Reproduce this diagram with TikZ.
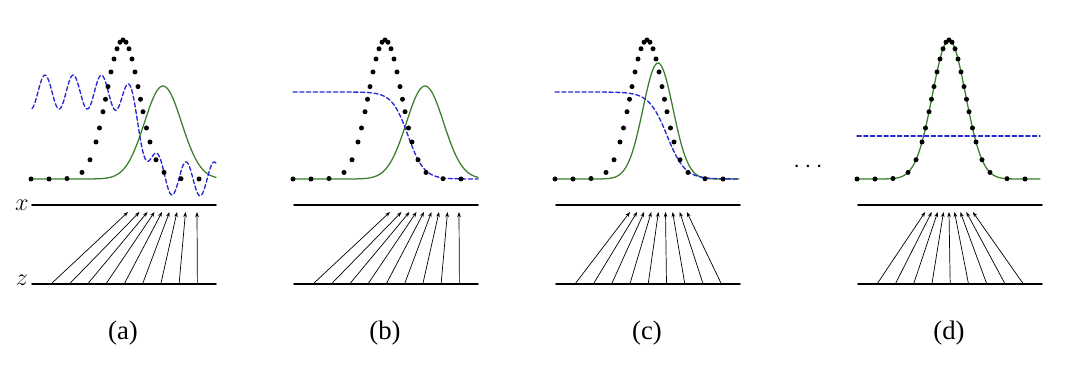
\documentclass[tikz,border=0pt]{standalone}
\usepackage{amsmath}
\usepackage{fontspec}
\usepackage{tikz}
\usetikzlibrary{arrows.meta, calc}
\newfontfamily\capfont{Liberation Serif}
\definecolor{gengreen}{RGB}{58,128,44}
\definecolor{discblue}{RGB}{40,40,215}

\tikzset{
  declare function={
    pdata(\d)=179-139*exp(-min(((\d)/23.47)^2,9));
    pgen(\d,\a,\s)=179-\a*exp(-min(((\d)/\s)^2/2,9));
    dsig(\x,\c,\s)=92+87/(1+exp(min(max(-((\x)-(\c))/(\s),-7),7)));
  },
  axisline/.style={line width=1.1pt},
  gencurve/.style={gengreen, line width=0.9pt},
  disccurve/.style={discblue, line width=0.95pt, dash pattern=on 3pt off 1.8pt},
  maparrow/.style={-{Stealth[length=3.6pt,width=2.6pt]}, line width=0.5pt},
  caplabel/.style={font=\capfont\fontsize{19}{21}\selectfont},
  axlabel/.style={font=\fontsize{19}{21}\selectfont, inner sep=0pt},
}

\begin{document}
\begin{tikzpicture}[x=0.025cm, y=-0.025cm, line cap=round, line join=round]
  \useasboundingbox (0,0) rectangle (1080,366);

  % -- axis names --
  \node[axlabel] (xname) at (22,205) {$x$};
  \node[axlabel] (zname) at (22,280) {$z$};

  % -- the four panels (shifted to the data peak) --
  \foreach \pk/\tag in {123/a, 385/b, 647/c, 949/d} {
    \begin{scope}[shift={(\pk,0)}]
      % x and z lines
      \draw[axisline] (-91,205) -- (93,205);
      \draw[axisline] (-91,284) -- (93,284);
      \node[caplabel] (cap\tag) at (0,333) {(\tag)};
    \end{scope}
  }

  % -- panel (a) --
  \begin{scope}[shift={(123,0)}]
    \draw[gencurve] plot[domain=-91:93, samples=120] (\x, {pgen(\x-40,93,18.6)});
    \draw[disccurve] plot[domain=-91:93, samples=240]
      (\x, {dsig(\x,20,6.5)-17*cos((\x+78)*12.766)});
    \foreach \e [count=\i from 0] in {5,16.5,24.5,31.5,39,46.5,54,62.5,74} {
      \coordinate (za\i) at ({-72+18.3*\i},284);
      \coordinate (xa\i) at (\e,212);
      \draw[maparrow] (za\i) -- (xa\i);
    }
  \end{scope}

  % -- panel (b) --
  \begin{scope}[shift={(385,0)}]
    \draw[gencurve] plot[domain=-92:93, samples=120] (\x, {pgen(\x-40,93,18.6)});
    \draw[disccurve] plot[domain=-92:93, samples=160] (\x, {dsig(\x,23,8)});
    \foreach \e [count=\i from 0] in {5,16.5,24.5,31.5,39,46.5,54,62.5,74} {
      \coordinate (zb\i) at ({-72+18.3*\i},284);
      \coordinate (xb\i) at (\e,212);
      \draw[maparrow] (zb\i) -- (xb\i);
    }
  \end{scope}

  % -- panel (c) --
  \begin{scope}[shift={(647,0)}]
    \draw[gencurve] plot[domain=-92:92, samples=120] (\x, {pgen(\x-11,116,15)});
    \draw[disccurve] plot[domain=-92:92, samples=160] (\x, {dsig(\x,20,9)});
    \foreach \e [count=\i from 0] in {-17,-9.9,-2.8,4.3,11.4,18.5,25.6,32.7,39.8} {
      \coordinate (zc\i) at ({-72+18.3*\i},284);
      \coordinate (xc\i) at (\e,212);
      \draw[maparrow] (zc\i) -- (xc\i);
    }
  \end{scope}

  % -- panel (d) --
  \begin{scope}[shift={(949,0)}]
    \draw[gencurve] plot[domain=-92:91, samples=120] (\x, {pdata(\x)});
    \draw[disccurve] (-92,136) -- (91,136);
    \foreach \e [count=\i from 0] in {-23.8,-17.3,-11.3,-5.5,0,5.5,11.3,17.3,23.8} {
      \coordinate (zd\i) at ({-72+18.3*\i},284);
      \coordinate (xd\i) at (\e,212);
      \draw[maparrow] (zd\i) -- (xd\i);
    }
  \end{scope}

  % -- data samples (black dots) --
  \foreach \pk in {123, 385, 647, 949}
    \foreach \d in {-92,-74,-56,-41,-33,-27,-23.5,-20,-17.5,-15,-12,-9,-6,-3,0,3,6,9,12,15,17.5,20,23.5,27,33,41,58,76}
      \fill (\pk+\d, {pdata(\d)}) circle[radius=2.5];

  \node[font=\fontsize{19}{21}\selectfont] (moredots) at (808,167)
    {$\cdot$\hspace{3.2pt}$\cdot$\hspace{3.2pt}$\cdot$};
\end{tikzpicture}
\end{document}
